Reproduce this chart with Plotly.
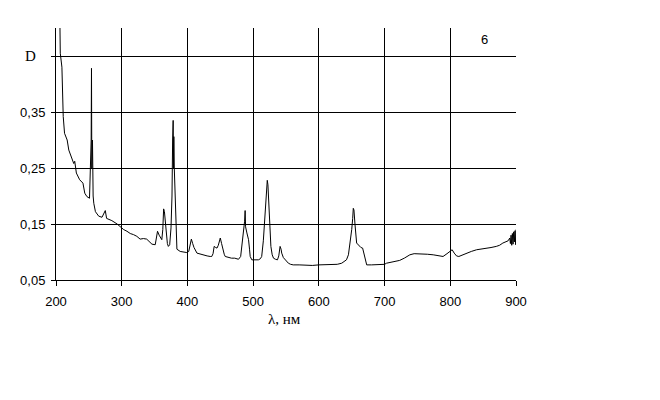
import plotly.graph_objects as go

wavelength = [
    205, 206.5, 209, 211, 213, 217, 219.5, 223, 227, 228.5, 229.5, 231, 236, 241, 243.8, 247, 251,
    252.4, 253.5, 254, 254.5, 255, 255.5, 256.5, 257.5, 260, 265, 270, 273, 275, 277, 285,
    293, 298, 303, 308, 313, 318, 323, 328, 333, 338, 342, 346, 351, 353, 354.5, 357, 359, 361,
    362.5, 363.8, 365, 366, 368, 369.5, 371, 373, 375, 376.5, 377.5, 378.3, 378.8, 379.3, 380,
    381.5, 382.6, 384, 389, 394, 399, 402, 404, 406, 408, 410, 414.5, 419.5, 424.5, 430, 434.7,
    437, 439, 440.7, 443, 445, 447, 449, 450, 452, 454, 456, 457.5, 462, 467, 472, 477.7, 481,
    483, 485.3, 487, 487.8, 488.5, 490.5, 493, 494.5, 495.5, 498, 503, 508, 511, 513, 515.5,
    518, 520, 521.5, 522.5, 524, 525, 527, 529, 531, 534, 537, 539, 541, 542.5, 543.5, 546,
    548.6, 551, 553.6, 557, 561, 570, 581.6, 590, 600, 610, 622, 628, 634.8, 639, 642, 645,
    647, 650, 651.5, 652.4, 653.4, 654, 655, 657.5, 661.5, 664, 666.6, 668, 670, 672.8, 680,
    690, 695.5, 700, 703, 708, 713, 718, 723, 730, 738.5, 745, 753, 758.7, 765, 774, 782, 789,
    795, 799, 802.8, 806, 809.5, 813, 817, 824.6, 832, 840, 847, 855, 862, 870, 875, 880, 885,
    888, 890.5, 891.5, 892.5, 893.5, 894.5, 895.5, 896.5, 897.5, 898.5, 899.5, 900,
]
density = [
    0.60, 0.455, 0.43, 0.342, 0.312, 0.300, 0.282, 0.270, 0.258, 0.262, 0.252, 0.241, 0.229, 0.223, 0.205, 0.199, 0.196,
    0.241, 0.300, 0.428, 0.250, 0.395, 0.300, 0.200, 0.187, 0.172, 0.164, 0.162, 0.168, 0.174, 0.160, 0.156,
    0.150, 0.145, 0.140, 0.137, 0.133, 0.131, 0.128, 0.123, 0.124, 0.123, 0.118, 0.114, 0.113, 0.125, 0.137, 0.130, 0.125, 0.122,
    0.140, 0.177, 0.172, 0.158, 0.130, 0.115, 0.110, 0.113, 0.143, 0.200, 0.300, 0.335, 0.250, 0.306, 0.250,
    0.200, 0.160, 0.105, 0.101, 0.100, 0.099, 0.101, 0.110, 0.123, 0.115, 0.108, 0.098, 0.096, 0.095, 0.093, 0.092,
    0.092, 0.097, 0.110, 0.108, 0.107, 0.112, 0.124, 0.125, 0.115, 0.104, 0.096, 0.092, 0.090, 0.089, 0.089, 0.087, 0.092,
    0.110, 0.137, 0.155, 0.174, 0.145, 0.134, 0.122, 0.105, 0.092, 0.086, 0.086, 0.086, 0.088, 0.092, 0.120,
    0.163, 0.200, 0.228, 0.220, 0.190, 0.163, 0.110, 0.095, 0.089, 0.087, 0.086, 0.093, 0.110, 0.105, 0.098, 0.090,
    0.086, 0.083, 0.080, 0.078, 0.077, 0.077, 0.076, 0.076, 0.077, 0.077, 0.077, 0.078, 0.080, 0.083, 0.086, 0.095,
    0.110, 0.140, 0.160, 0.178, 0.175, 0.160, 0.149, 0.116, 0.110, 0.108, 0.107, 0.100, 0.089, 0.077, 0.077,
    0.077, 0.077, 0.078, 0.080, 0.081, 0.082, 0.083, 0.085, 0.089, 0.095, 0.097, 0.097, 0.097, 0.096, 0.095, 0.094, 0.092,
    0.097, 0.101, 0.104, 0.098, 0.093, 0.092, 0.094, 0.098, 0.101, 0.104, 0.105, 0.107, 0.108, 0.110, 0.112, 0.116, 0.118,
    0.120, 0.125, 0.115, 0.130, 0.112, 0.133, 0.114, 0.136, 0.118, 0.138, 0.113, 0.140,
]

x_ticks = [200, 300, 400, 500, 600, 700, 800, 900]
y_ticks = [0.05, 0.15, 0.25, 0.35, 0.45]
y_tick_labels = ["0,05", "0,15", "0,25", "0,35", ""]

fig = go.Figure()
fig.add_trace(go.Scatter(x=wavelength, y=density, mode="lines",
                         line=dict(color="black", width=1), showlegend=False,
                         cliponaxis=True))

sans = "Liberation Sans, Arial, sans-serif"
serif = "Liberation Serif, Times New Roman, serif"

fig.update_layout(
    width=660, height=400,
    margin=dict(l=56, r=144, t=28, b=120),
    paper_bgcolor="white", plot_bgcolor="white",
    font=dict(family=sans, size=13, color="black"),
    xaxis=dict(range=[200, 900], tickvals=x_ticks, ticktext=[str(v) for v in x_ticks],
               showgrid=True, gridcolor="black", gridwidth=1,
               showline=True, linecolor="black", linewidth=1,
               ticks="outside", ticklen=5, tickcolor="black", ticklabelstandoff=4,
               zeroline=False, tickfont=dict(family=sans, size=13, color="black")),
    yaxis=dict(range=[0.05, 0.5], tickvals=y_ticks, ticktext=y_tick_labels,
               showgrid=True, gridcolor="black", gridwidth=1,
               showline=True, linecolor="black", linewidth=1,
               ticks="outside", ticklen=4, tickcolor="black", ticklabelstandoff=3,
               zeroline=False, tickfont=dict(family=sans, size=13, color="black")),
    annotations=[
        dict(text="D", xref="paper", yref="y", x=(30 - 56) / 460, y=0.45,
             xanchor="center", yanchor="middle", showarrow=False,
             font=dict(family=serif, size=15, color="black")),
        dict(text="λ, нм", xref="paper", yref="paper", x=0.497, y=-0.155,
             xanchor="center", yanchor="middle", showarrow=False,
             font=dict(family=serif, size=15, color="black")),
        dict(text="6", xref="x", yref="y", x=852.7, y=0.48,
             xanchor="center", yanchor="middle", showarrow=False,
             font=dict(family=sans, size=13, color="black")),
    ],
)

fig.write_html("out.html", config={"displayModeBar": False},
               post_script="document.body.style.margin='0';")
